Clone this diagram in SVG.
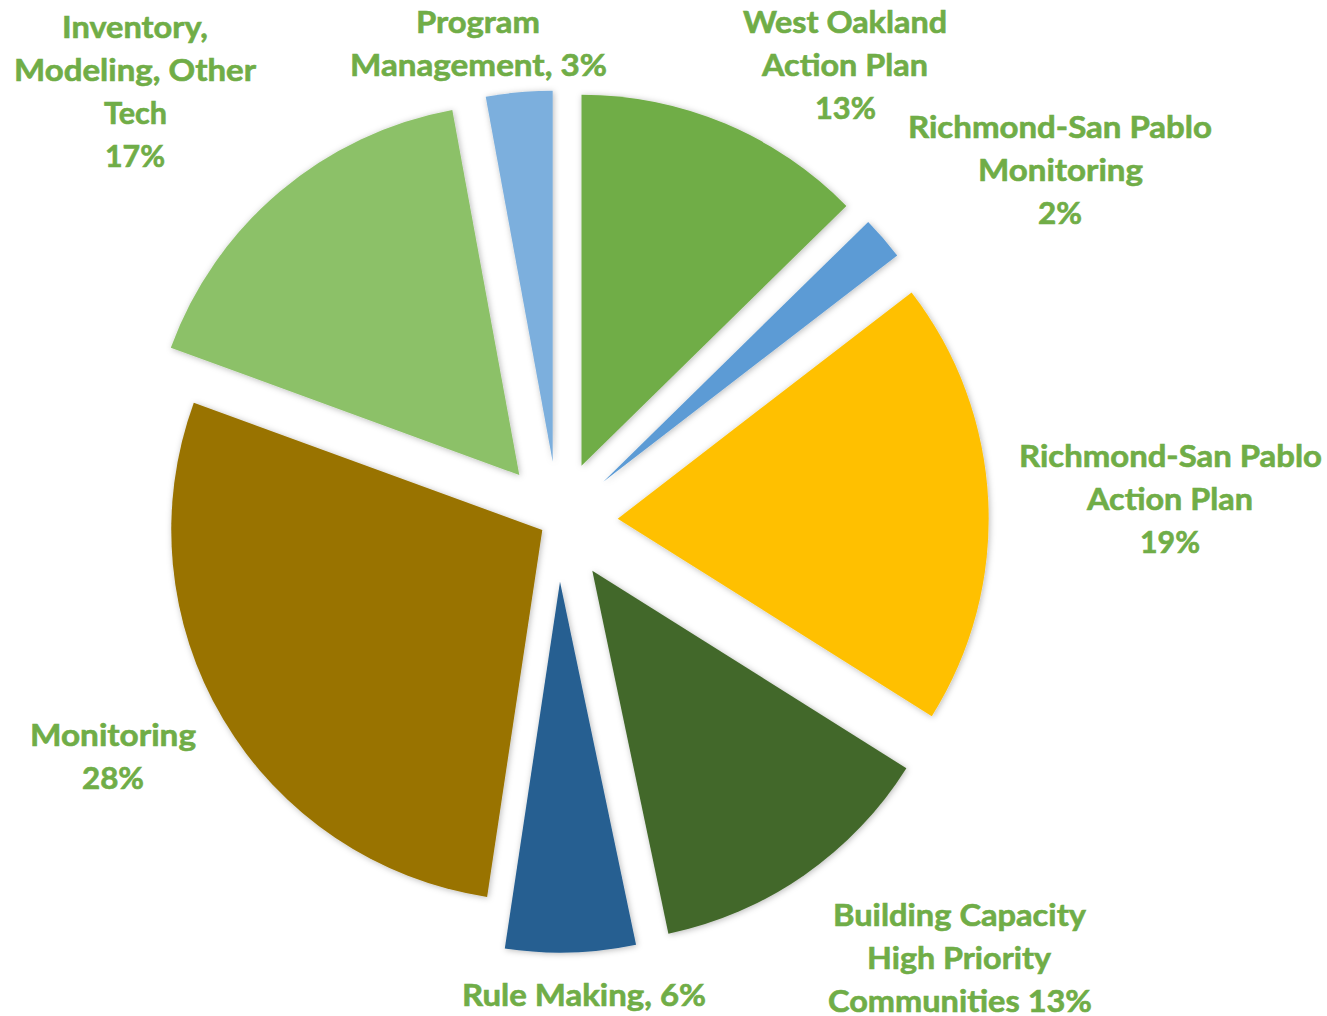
<svg xmlns="http://www.w3.org/2000/svg" width="1327" height="1016" viewBox="0 0 1327 1016">
<defs>
<filter id="sh" x="-10%" y="-10%" width="120%" height="120%">
<feDropShadow dx="1" dy="1" stdDeviation="3" flood-color="#000" flood-opacity="0.28"/>
</filter>
<style>
.lbl{font-family:Lato,"Liberation Sans",sans-serif;font-weight:bold;font-size:30px;fill:#70AD47;stroke:#70AD47;stroke-width:0.6px;text-anchor:middle}
.sl{filter:url(#sh)}
</style>
</defs>
<rect width="1327" height="1016" fill="#fff"/>
<g id="connectors"/>
<g id="west-oakland">
<path class="sl" fill="#70AD47" d="M581.5,465.7 L581.5,94.7 A371,371 0 0 1 846.4,205.9 Z"/>
<text class="lbl" x="845" y="32.5" textLength="204" lengthAdjust="spacingAndGlyphs">West Oakland</text>
<text class="lbl" x="845" y="75.5" textLength="166" lengthAdjust="spacingAndGlyphs">Action Plan</text>
<text class="lbl" x="845.5" y="118.5" textLength="61" lengthAdjust="spacingAndGlyphs">13%</text>
</g>
<g id="rsp-monitoring">
<path class="sl" fill="#5B9BD5" d="M603.3,481.7 L868.2,221.9 A371,371 0 0 1 897.2,255.4 Z"/>
<text class="lbl" x="1060" y="137.5" textLength="304" lengthAdjust="spacingAndGlyphs">Richmond-San Pablo</text>
<text class="lbl" x="1060.5" y="180.5" textLength="165" lengthAdjust="spacingAndGlyphs">Monitoring</text>
<text class="lbl" x="1060" y="223.5" textLength="44" lengthAdjust="spacingAndGlyphs">2%</text>
</g>
<g id="rsp-action-plan">
<path class="sl" fill="#FFC000" d="M617.7,518.7 L911.6,292.4 A371,371 0 0 1 931.8,716.2 Z"/>
<text class="lbl" x="1170.5" y="466.5" textLength="303" lengthAdjust="spacingAndGlyphs">Richmond-San Pablo</text>
<text class="lbl" x="1170" y="509.5" textLength="166" lengthAdjust="spacingAndGlyphs">Action Plan</text>
<text class="lbl" x="1170" y="552.5" textLength="60" lengthAdjust="spacingAndGlyphs">19%</text>
</g>
<g id="building-capacity">
<path class="sl" fill="#43682B" d="M592.3,570.7 L906.4,768.2 A371,371 0 0 1 668.4,933.8 Z"/>
<text class="lbl" x="959.5" y="925.5" textLength="253" lengthAdjust="spacingAndGlyphs">Building Capacity</text>
<text class="lbl" x="959" y="968.5" textLength="184" lengthAdjust="spacingAndGlyphs">High Priority</text>
<text class="lbl" x="960" y="1011.5" textLength="264" lengthAdjust="spacingAndGlyphs">Communities 13%</text>
</g>
<g id="rule-making">
<path class="sl" fill="#255E91" d="M560,581.7 L636.05,944.8 A371,371 0 0 1 504.8,948.6 Z"/>
<text class="lbl" x="584" y="1005.5" textLength="244" lengthAdjust="spacingAndGlyphs">Rule Making, 6%</text>
</g>
<g id="monitoring">
<path class="sl" fill="#997300" d="M542.3,530 L487.1,896.9 A371,371 0 0 1 193.8,402.7 Z"/>
<text class="lbl" x="113" y="745.5" textLength="166" lengthAdjust="spacingAndGlyphs">Monitoring</text>
<text class="lbl" x="113" y="788.5" textLength="62" lengthAdjust="spacingAndGlyphs">28%</text>
</g>
<g id="inventory">
<path class="sl" fill="#8CC168" d="M519.3,475 L170.8,347.7 A371,371 0 0 1 452.3,110.1 Z"/>
<text class="lbl" x="135" y="37.5" textLength="146" lengthAdjust="spacingAndGlyphs">Inventory,</text>
<text class="lbl" x="135" y="80.5" textLength="242" lengthAdjust="spacingAndGlyphs">Modeling, Other</text>
<text class="lbl" x="135.5" y="123.5" textLength="63" lengthAdjust="spacingAndGlyphs">Tech</text>
<text class="lbl" x="135" y="166.5" textLength="60" lengthAdjust="spacingAndGlyphs">17%</text>
</g>
<g id="program-management">
<path class="sl" fill="#7CAFDD" d="M552.7,461.7 L485.7,96.8 A371,371 0 0 1 552.7,90.7 Z"/>
<text class="lbl" x="478" y="32.5" textLength="124" lengthAdjust="spacingAndGlyphs">Program</text>
<text class="lbl" x="478.5" y="75.5" textLength="257" lengthAdjust="spacingAndGlyphs">Management, 3%</text>
</g>
</svg>
